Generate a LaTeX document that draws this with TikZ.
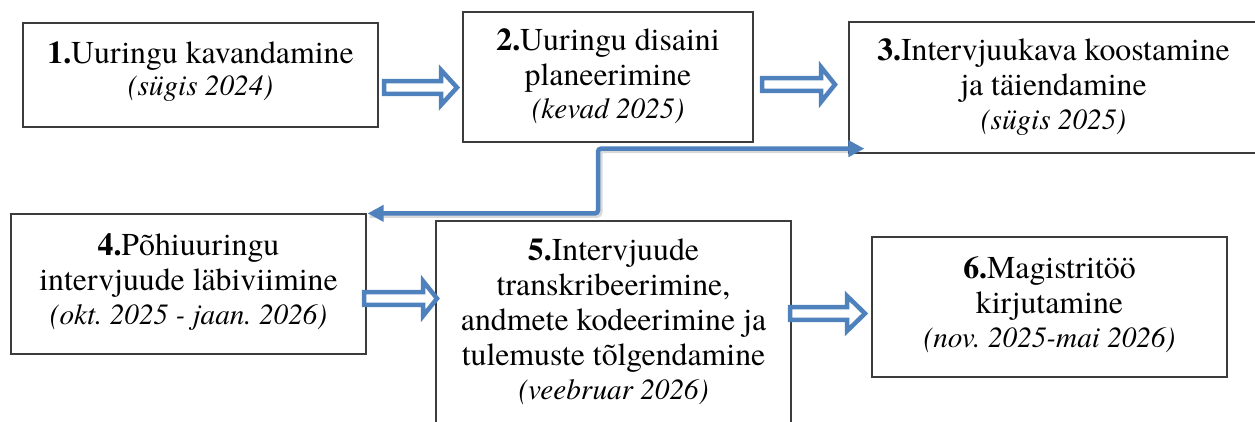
\documentclass[tikz,border=0pt]{standalone}
\usepackage{fontspec}
\IfFontExistsTF{texgyretermes-regular.otf}{%
  \setmainfont{texgyretermes}[Extension=.otf, UprightFont=*-regular, BoldFont=*-bold,
    ItalicFont=*-italic, BoldItalicFont=*-bolditalic]}{%
  \setmainfont{Liberation Serif}}
\usetikzlibrary{arrows.meta}
\definecolor{wordblue}{RGB}{79,129,189}
\definecolor{boxline}{RGB}{60,60,60}
\frenchspacing
\newcommand\boxfont{\fontsize{31.8pt}{35pt}\selectfont\frenchspacing}
\newcommand\datefont{\fontsize{29.2pt}{35pt}\selectfont\itshape}
\newcommand\blockarr[5]{%
  \draw[barrow] (#2,{#5-6.3}) -- (#3,{#5-6.3}) -- (#3,{#5-17.5}) -- (#4,#5)
    -- (#3,{#5+17.5}) -- (#3,{#5+6.3}) -- (#2,{#5+6.3}) -- cycle;
  \coordinate (#1) at (#2,#5);}
\tikzset{
  box/.style={draw=boxline, line width=1.3pt, fill=white, rectangle, inner sep=0pt},
  txt/.style={anchor=north, align=center, inner sep=0pt, font=\boxfont},
  barrow/.style={draw=wordblue, fill=white, line width=4.5pt, line join=miter},
  conn/.style={draw=wordblue, line width=4.5pt, rounded corners=3pt,
    {Triangle[length=16pt,width=16pt]}-{Triangle[length=16pt,width=16pt]}},
  connshadow/.style={draw=black, opacity=0.15, line width=5pt, rounded corners=3pt}
}
\begin{document}
\begin{tikzpicture}[x=1pt,y=-1pt]
\useasboundingbox (0,0) rectangle (1255,421);
\clip (0,0) rectangle (1255,421);
\fill[white] (0,0) rectangle (1255,421);

% boxes
\node[box, minimum width=355pt, minimum height=104pt] (b1) at (200.5,75) {};
\node[box, minimum width=290pt, minimum height=130pt] (b2) at (608,77) {};
\node[box, minimum width=409pt, minimum height=131pt] (b3) at (1053.5,87.5) {};
\node[box, minimum width=355pt, minimum height=140pt] (b4) at (188.5,284) {};
\node[box, minimum width=355pt, minimum height=219pt] (b5) at (613.5,330.5) {};
\node[box, minimum width=355pt, minimum height=140pt] (b6) at (1049.5,307) {};

% texts
\node[txt] (t1) at (200.5,38.5) {\strut\textbf{1.}Uuringu kavandamine\\[-2.5pt]{\datefont (sügis 2024)}};
\node[txt] (t2) at (608,25.5) {\strut\textbf{2.}Uuringu disaini\\planeerimine\\[-1.5pt]{\datefont (kevad 2025)}};
\node[txt] (t3) at (1053.5,35.5) {\strut\textbf{3.}Intervjuukava koostamine\\ja täiendamine\\[-1pt]{\datefont (sügis 2025)}};
\node[txt] (t4) at (188.5,230.5) {\strut\textbf{4.}Põhiuuringu\\intervjuude läbiviimine\\[-1pt]{\datefont (okt. 2025 - jaan. 2026)}};
\node[txt] (t5) at (613.5,235.5) {\strut\textbf{5.}Intervjuude\\transkribeerimine,\\andmete kodeerimine ja\\tulemuste tõlgendamine\\[-0.5pt]{\datefont (veebruar 2026)}};
\node[txt] (t6) at (1049.5,253.5) {\strut\textbf{6.}Magistritöö\\kirjutamine\\[-0.5pt]{\datefont (nov. 2025-mai 2026)}};

% block arrows
\blockarr{a1}{384}{441}{457}{87.5}
\blockarr{a2}{762}{821}{835}{84.5}
\blockarr{a3}{364}{423}{437}{298.5}
\blockarr{a4}{790}{847}{865}{313.5}

% elbow connector between box 3 and box 4
\coordinate (e3) at ([shift={(16,-5)}]b3.south west);
\coordinate (e4) at ([shift={(1,0)}]b4.north east);
\coordinate (mid) at (598,0);
\draw[connshadow] ([shift={(2,2)}]e4) -- ([shift={(2,2)}]e4 -| mid) -- ([shift={(2,2)}]e3 -| mid) -- ([shift={(-14,2)}]e3);
\draw[conn] (e4) -- (e4 -| mid) -- (e3 -| mid) -- (e3);
\end{tikzpicture}
\end{document}
